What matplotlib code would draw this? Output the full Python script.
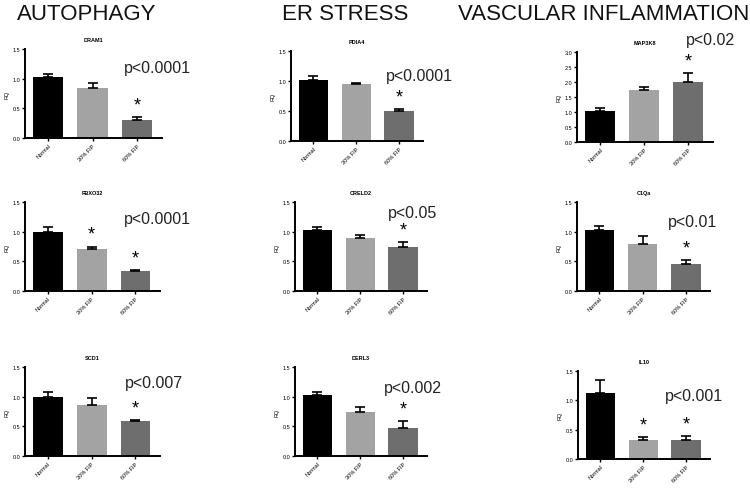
import matplotlib
matplotlib.use("Agg")
import matplotlib.pyplot as plt

plt.rcParams['font.family'] = ['Liberation Sans', 'DejaVu Sans']

groups = ["Normal", "30% FIP", "60% FIP"]
bar_colors = ["#000000", "#a3a3a3", "#6e6e6e"]

genes = ["DRAM1", "PDIA4", "MAP3K8",
         "FBXO32", "CRELD2", "C1Qa",
         "SCD1", "DERL3", "IL10"]
means = [[1.03, 0.84, 0.31], [1.01, 0.95, 0.50], [1.05, 1.75, 2.00],
         [1.00, 0.70, 0.33], [1.03, 0.90, 0.75], [1.03, 0.80, 0.45],
         [1.00, 0.86, 0.59], [1.03, 0.75, 0.47], [1.12, 0.32, 0.32]]
sems = [[0.05, 0.08, 0.05], [0.07, 0.02, 0.03], [0.08, 0.08, 0.30],
        [0.08, 0.05, 0.02], [0.05, 0.05, 0.08], [0.07, 0.12, 0.08],
        [0.08, 0.12, 0.02], [0.05, 0.08, 0.12], [0.22, 0.05, 0.07]]
stars = [[2], [2], [2], [1, 2], [2], [2], [2], [2], [1, 2]]
pvals = ["p<0.0001", "p<0.0001", "p<0.02",
         "p<0.0001", "p<0.05", "p<0.01",
         "p<0.007", "p<0.002", "p<0.001"]
ymax = [1.5, 1.5, 3.0, 1.5, 1.5, 1.5, 1.5, 1.5, 1.5]
headers = ["AUTOPHAGY", "ER STRESS", "VASCULAR INFLAMMATION"]

W, H = 750, 489
fig = plt.figure(figsize=(7.5, 4.89), dpi=100)

# axes boxes in pixels: left, top, right, bottom
boxes = [(25, 50, 162, 139), (291, 52, 423, 142), (577, 53, 713, 143),
         (25, 203, 160, 292), (295, 203, 427, 292), (577, 203, 710, 292),
         (25, 368, 160, 457), (295, 368, 427, 457), (578, 372, 710, 460)]
# p-value text positions (left x, center y) in pixels
ptext = [(124, 68), (386, 77), (686, 40),
         (124, 220), (388, 214), (668, 223),
         (125, 384), (384, 389), (665, 397)]

for i in range(9):
    l, t, r, b = boxes[i]
    ax = fig.add_axes([l / W, 1 - b / H, (r - l) / W, (b - t) / H])
    x = range(3)
    ax.bar(x, means[i], width=0.68, color=bar_colors, zorder=2)
    ax.errorbar(x, means[i], yerr=[[0, 0, 0], sems[i]], fmt="none",
                ecolor="black", elinewidth=1.2, capsize=3.5, capthick=1.2, zorder=3)
    for j in stars[i]:
        ax.text(j, means[i][j] + sems[i][j] + ymax[i] * 0.04, "*",
                ha="center", va="bottom", fontsize=13)
    ax.set_xlim(-0.52, 2.56)
    ax.set_ylim(0, ymax[i])
    step = 0.5
    ticks = [k * step for k in range(int(round(ymax[i] / step)) + 1)]
    ax.set_yticks(ticks)
    ax.set_yticklabels(["%.1f" % v for v in ticks], fontsize=4)
    ax.set_xticks(list(x))
    ax.set_xticklabels(groups, fontsize=4, rotation=45, ha="right",
                       rotation_mode="anchor")
    ax.tick_params(length=2, width=1, pad=1.5)
    for s in ["top", "right"]:
        ax.spines[s].set_visible(False)
    for s in ["left", "bottom"]:
        ax.spines[s].set_linewidth(1.4)
    ax.set_ylabel("RQ", fontsize=4, labelpad=2)
    ax.set_title(genes[i], fontsize=4, fontweight="bold", pad=6)
    px, py = ptext[i]
    fig.text(px / W, 1 - py / H, pvals[i], fontsize=11.5, ha="left",
             va="center", color="#222222")

hx = [17, 282, 458]
for k in range(3):
    fig.text(hx[k] / W, 1 - 15 / H, headers[k], fontsize=16, ha="left",
             va="center", color="#111111")

fig.savefig("out.png", dpi=100)
